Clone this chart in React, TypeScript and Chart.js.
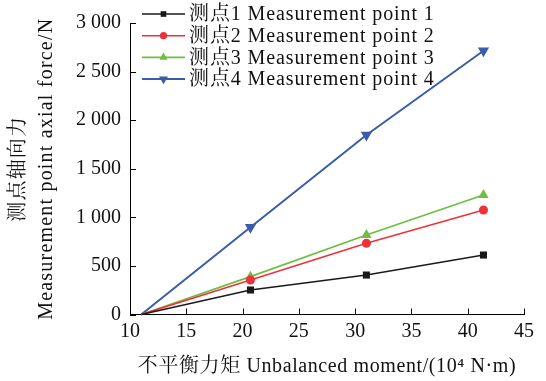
import React, { useEffect, useRef } from "react";
import { Chart, registerables } from "chart.js";

Chart.register(...registerables);

// ---- data ----
const moments = [11.0, 20.7, 31.0, 41.4];
const point1 = [0, 252, 406, 612];
const point2 = [0, 355, 733, 1075];
const point3 = [0, 389, 818, 1230];
const point4 = [0, 897, 1847, 2715];
const seriesLabels = [
  "测点1 Measurement point 1",
  "测点2 Measurement point 2",
  "测点3 Measurement point 3",
  "测点4 Measurement point 4",
];
const xTickValues = [10, 15, 20, 25, 30, 35, 40, 45];
const yTickValues = [0, 500, 1000, 1500, 2000, 2500, 3000];
const xTitle = "不平衡力矩 Unbalanced moment/(10⁴ N·m)";
const yTitle = ["测点轴向力", "Measurement point axial force/N"];

const FONT = '"Liberation Serif", "Noto Serif CJK SC", "Noto Sans CJK SC", serif';
const colors = ["#1a1a1a", "#ee3138", "#6fbe44", "#3a5ca9"];
const styles = ["rect", "circle", "triangle", "triangle"];
const rotations = [0, 0, 0, 180];
const radii = [5, 4.5, 6, 6.5];
const widths = [1.5, 1.5, 1.8, 2];

function fmt(v: number) {
  if (v >= 1000) {
    return `${Math.floor(v / 1000)} ${String(v % 1000).padStart(3, "0")}`;
  }
  return String(v);
}

function drawMarker(ctx: CanvasRenderingContext2D, style: string, rot: number, x: number, y: number, r: number, color: string) {
  ctx.save();
  ctx.fillStyle = color;
  ctx.beginPath();
  if (style === "rect") {
    const s = r * Math.SQRT1_2;
    ctx.rect(x - s, y - s, 2 * s, 2 * s);
  } else if (style === "circle") {
    ctx.arc(x, y, r, 0, Math.PI * 2);
  } else {
    const dir = rot === 180 ? -1 : 1;
    ctx.moveTo(x, y - dir * r);
    ctx.lineTo(x + r * 0.866, y + dir * r * 0.5);
    ctx.lineTo(x - r * 0.866, y + dir * r * 0.5);
    ctx.closePath();
  }
  ctx.fill();
  ctx.restore();
}

const inwardTicks = {
  id: "inwardTicks",
  afterDatasetsDraw(chart: any) {
    const { ctx, scales, chartArea } = chart;
    ctx.save();
    ctx.strokeStyle = "#000";
    ctx.lineWidth = 1;
    const xs = scales.x;
    const ys = scales.y;
    for (const v of xTickValues) {
      const px = Math.round(xs.getPixelForValue(v)) + 0.5;
      ctx.beginPath();
      ctx.moveTo(px, chartArea.bottom);
      ctx.lineTo(px, chartArea.bottom - 6);
      ctx.stroke();
    }
    for (const v of yTickValues) {
      const py = Math.round(ys.getPixelForValue(v)) + 0.5;
      ctx.beginPath();
      ctx.moveTo(chartArea.left, py);
      ctx.lineTo(chartArea.left + 6, py);
      ctx.stroke();
    }
    ctx.restore();
  },
};

// widen the spacing of axis titles, like the reference typesetting
const titleSpacing = {
  id: "titleSpacing",
  afterLayout(chart: any) {
    const spacing: Record<string, string> = { x: "0.6px", y: "1.2px" };
    for (const id of ["x", "y"]) {
      const s = chart.scales[id];
      if (!s || s.__spaced) continue;
      const orig = s.drawTitle;
      s.drawTitle = function (...args: any[]) {
        const ctx = this.ctx;
        ctx.save();
        (ctx as any).letterSpacing = spacing[id];
        orig.apply(this, args);
        ctx.restore();
      };
      s.__spaced = true;
    }
  },
};

const customLegend = {
  id: "customLegend",
  afterDraw(chart: any) {
    const { ctx } = chart;
    ctx.save();
    chart.data.datasets.forEach((ds: any, i: number) => {
      const y = 14 + i * 21.7;
      ctx.strokeStyle = colors[i];
      ctx.lineWidth = widths[i];
      ctx.beginPath();
      ctx.moveTo(142, y);
      ctx.lineTo(185, y);
      ctx.stroke();
      drawMarker(ctx, styles[i], rotations[i], 163.5, y, radii[i] * 0.8, colors[i]);
      ctx.fillStyle = "#111";
      ctx.font = `20px ${FONT}`;
      (ctx as any).letterSpacing = "0.9px";
      ctx.textBaseline = "middle";
      ctx.textAlign = "left";
      ctx.fillText(ds.label, 189, y + 1);
    });
    ctx.restore();
  },
};

export default function App() {
  const ref = useRef<HTMLCanvasElement | null>(null);

  useEffect(() => {
    document.body.style.margin = "0";
    const canvas = ref.current;
    if (!canvas) return;
    const series = [point1, point2, point3, point4];
    const chart = new Chart(canvas, {
      type: "line",
      data: {
        datasets: series.map((vals, i) => ({
          label: seriesLabels[i],
          data: moments.map((m, j) => ({ x: m, y: vals[j] })),
          borderColor: colors[i],
          backgroundColor: colors[i],
          borderWidth: widths[i],
          pointStyle: styles[i] as any,
          rotation: rotations[i],
          pointRadius: moments.map((_, j) => (j === 0 ? 0 : radii[i])),
          pointBorderWidth: 0,
          pointHoverRadius: 0,
          tension: 0,
          clip: false as any,
        })),
      },
      options: {
        responsive: false,
        animation: false,
        events: [],
        layout: { padding: { top: 23, right: 22, bottom: 0, left: 0 } },
        plugins: {
          legend: { display: false },
          tooltip: { enabled: false },
        },
        scales: {
          x: {
            type: "linear",
            min: 10,
            max: 45,
            afterBuildTicks: (s: any) => {
              s.ticks = xTickValues.map((v) => ({ value: v }));
            },
            afterFit: (s: any) => {
              s.height = 66.5;
            },
            grid: { display: false, drawTicks: false },
            border: { display: true, color: "#000", width: 1 },
            ticks: {
              color: "#111",
              padding: 5,
              maxRotation: 0,
              autoSkip: false,
              font: { family: FONT, size: 20 },
              callback: (v: any) => String(v),
            },
            title: {
              display: true,
              text: xTitle,
              color: "#111",
              font: { family: FONT, size: 20 },
              padding: { top: 0, bottom: 2 },
            },
          },
          y: {
            type: "linear",
            min: 0,
            max: 3000,
            afterBuildTicks: (s: any) => {
              s.ticks = yTickValues.map((v) => ({ value: v }));
            },
            afterFit: (s: any) => {
              s.width = 130;
            },
            grid: { display: false, drawTicks: false },
            border: { display: true, color: "#000", width: 1 },
            ticks: {
              color: "#111",
              padding: 9,
              autoSkip: false,
              font: { family: FONT, size: 20 },
              callback: (v: any) => fmt(Number(v)),
            },
            title: {
              display: true,
              text: yTitle,
              color: "#111",
              font: { family: FONT, size: 20, lineHeight: 1.4 },
              padding: { top: 5, bottom: 0 },
            },
          },
        },
      },
      plugins: [inwardTicks, titleSpacing, customLegend],
    });
    return () => chart.destroy();
  }, []);

  return (
    <div style={{ width: 546, height: 381, position: "relative" }}>
      <canvas ref={ref} width={546} height={381} style={{ width: 546, height: 381, display: "block" }} />
    </div>
  );
}
